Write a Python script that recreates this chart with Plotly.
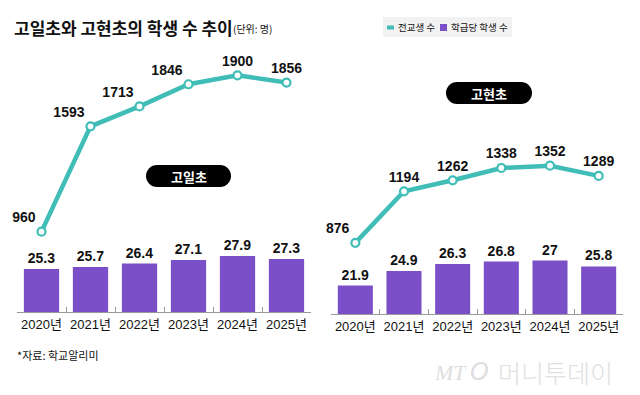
import plotly.graph_objects as go

# ---------------- data ----------------
years = ["2020년", "2021년", "2022년", "2023년", "2024년", "2025년"]
goil_total = [960, 1593, 1713, 1846, 1900, 1856]
goil_per_class = [25.3, 25.7, 26.4, 27.1, 27.9, 27.3]
gohyeon_total = [876, 1194, 1262, 1338, 1352, 1289]
gohyeon_per_class = [21.9, 24.9, 26.3, 26.8, 27, 25.8]
goil_per_class_labels = ["25.3", "25.7", "26.4", "27.1", "27.9", "27.3"]
gohyeon_per_class_labels = ["21.9", "24.9", "26.3", "26.8", "27", "25.8"]

title = "고일초와 고현초의 학생 수 추이"
unit = "(단위: 명)"
source = "*자료: 학교알리미"
legend_line = "전교생 수"
legend_bar = "학급당 학생 수"

TEAL = "#3fbdb6"
PURPLE = "#7a4fc8"
OFF = 8                      # page body margin
W, H = 640 - OFF, 395 - OFF
NUM = "Liberation Sans, Arial, Noto Sans CJK KR, sans-serif"
KR = "Noto Sans CJK KR, sans-serif"


def px(x):
    return (x - OFF) / W


def py(y):
    return 1 - (y - OFF) / H


fig = go.Figure()

bar_font = dict(family=NUM, size=14, color="#111", weight="bold")
lbl_font = dict(family=NUM, size=14, color="#111", weight="bold")

# left panel
fig.add_trace(go.Bar(
    x=years, y=goil_per_class, xaxis="x", yaxis="y",
    marker=dict(color=PURPLE, line=dict(width=0)), width=0.72,
    text=goil_per_class_labels, textposition="outside", textangle=0,
    constraintext="none", cliponaxis=False, textfont=bar_font,
    showlegend=False, hoverinfo="skip"))
fig.add_trace(go.Scatter(
    x=years, y=goil_total, xaxis="x", yaxis="y2",
    mode="lines+markers+text",
    line=dict(color=TEAL, width=4.5),
    marker=dict(size=8, color="white", line=dict(color=TEAL, width=2.2)),
    text=[str(v) for v in goil_total],
    textposition=["top left", "top left", "top left", "top left", "top center", "top center"],
    textfont=lbl_font, cliponaxis=False, showlegend=False, hoverinfo="skip"))

# right panel
fig.add_trace(go.Bar(
    x=years, y=gohyeon_per_class, xaxis="x2", yaxis="y3",
    marker=dict(color=PURPLE, line=dict(width=0)), width=0.72,
    text=gohyeon_per_class_labels, textposition="outside", textangle=0,
    constraintext="none", cliponaxis=False, textfont=bar_font,
    showlegend=False, hoverinfo="skip"))
fig.add_trace(go.Scatter(
    x=years, y=gohyeon_total, xaxis="x2", yaxis="y4",
    mode="lines+markers+text",
    line=dict(color=TEAL, width=4.5),
    marker=dict(size=8, color="white", line=dict(color=TEAL, width=2.2)),
    text=[str(v) for v in gohyeon_total],
    textposition=["top left", "top center", "top center", "top center", "top center", "top center"],
    textfont=lbl_font, cliponaxis=False, showlegend=False, hoverinfo="skip"))

xa = dict(type="category", range=[-0.5, 5.5], showline=True, linecolor="#999",
          linewidth=1, ticks="inside", tickson="boundaries", ticklen=5,
          tickcolor="#999", showgrid=False, zeroline=False, fixedrange=True,
          tickangle=0, tickfont=dict(family=NUM, size=13, color="#111"))
ya = dict(visible=False, showgrid=False, zeroline=False, fixedrange=True)

fig.update_layout(
    width=W, height=H,
    margin=dict(l=0, r=0, t=0, b=0),
    paper_bgcolor="white", plot_bgcolor="white",
    hovermode=False,
    xaxis=dict(xa, domain=[px(17), px(311)], anchor="y"),
    yaxis=dict(ya, domain=[py(312), py(50)], range=[16.7, 69.1]),
    yaxis2=dict(ya, domain=[py(312), py(50)], overlaying="y", range=[477, 2052]),
    xaxis2=dict(xa, domain=[px(331), px(623)], anchor="y3"),
    yaxis3=dict(ya, domain=[py(314), py(50)], range=[16.1, 69.98]),
    yaxis4=dict(ya, domain=[py(314), py(50)], overlaying="y3", range=[437, 2066]),
)


def pill(x0, y0, x1, y1, color="#000"):
    r = (y1 - y0) / 2
    common = dict(xref="paper", yref="paper", fillcolor=color, line=dict(width=0))
    return [
        dict(type="rect", x0=px(x0 + r), x1=px(x1 - r), y0=py(y1), y1=py(y0), **common),
        dict(type="circle", x0=px(x0), x1=px(x0 + 2 * r), y0=py(y1), y1=py(y0), **common),
        dict(type="circle", x0=px(x1 - 2 * r), x1=px(x1), y0=py(y1), y1=py(y0), **common),
    ]


shapes = pill(146, 165, 231, 187) + pill(446, 82, 532, 104) + [
    # legend box
    dict(type="rect", xref="paper", yref="paper", x0=px(383), x1=px(512), y0=py(37), y1=py(17),
         fillcolor="#f2f2f2", line=dict(width=0)),
    dict(type="line", xref="paper", yref="paper", x0=px(387), x1=px(394), y0=py(27.5), y1=py(27.5),
         line=dict(color=TEAL, width=4)),
    dict(type="rect", xref="paper", yref="paper", x0=px(440), x1=px(447), y0=py(31), y1=py(24),
         fillcolor=PURPLE, line=dict(width=0)),
]


def note(text, x, y, font, xanchor="left"):
    return dict(text=text, x=px(x), y=py(y), xref="paper", yref="paper", xanchor=xanchor,
                yanchor="middle", showarrow=False, font=font)


annotations = [
    note(title, 12, 27, dict(family=KR, size=17, color="#111", weight="bold")),
    note(unit, 231, 29, dict(family=KR, size=10, color="#111")),
    note(legend_line, 396, 27, dict(family=KR, size=9.5, color="#111")),
    note(legend_bar, 449, 27, dict(family=KR, size=9.5, color="#111")),
    note("고일초", 188.5, 176, dict(family=KR, size=13, color="white", weight="bold"), "center"),
    note("고현초", 489, 93, dict(family=KR, size=13, color="white", weight="bold"), "center"),
    note(source, 15, 355, dict(family=KR, size=11, color="#111")),
    note("<i>MT</i>", 432, 372, dict(family="Liberation Serif, serif", size=22, color="#dedede")),
    note("<i>O</i>", 468, 372, dict(family="DejaVu Sans, sans-serif", size=24, color="#dedede")),
    note("머니투데이", 496, 372, dict(family=KR, size=25, color="#e0e0e0", weight=300)),
]

fig.update_layout(shapes=shapes, annotations=annotations)
fig.write_html("out.html")
